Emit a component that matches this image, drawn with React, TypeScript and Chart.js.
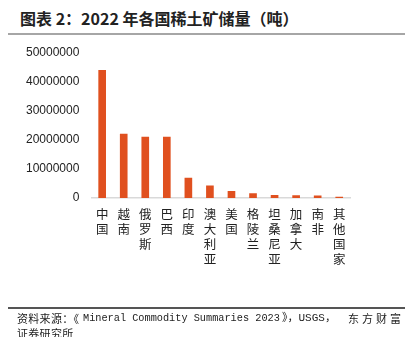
import React, { useEffect, useRef } from "react";
import { Chart, registerables } from "chart.js";

Chart.register(...registerables);

const categories: string[] = ["中国", "越南", "俄罗斯", "巴西", "印度", "澳大利亚", "美国", "格陵兰", "坦桑尼亚", "加拿大", "南非", "其他国家"];
const reserves: number[] = [44000000, 22000000, 21000000, 21000000, 6900000, 4200000, 2300000, 1500000, 890000, 830000, 790000, 280000];
const yTicks: number[] = [0, 10000000, 20000000, 30000000, 40000000, 50000000];

const titleText = "图表 2：2022 年各国稀土矿储量（吨）";
const srcA = "资料来源：《";
const srcB = "Mineral Commodity Summaries 2023";
const srcC = "》，USGS，";
const srcD = "东方财富";
const sourceLine2 = "证券研究所";

const cjk = "'Noto Sans CJK SC', sans-serif";
const mono = "'Liberation Mono', 'Noto Sans CJK SC', monospace";

export default function App() {
  const ref = useRef<HTMLCanvasElement | null>(null);

  useEffect(() => {
    document.body.style.margin = "0";
    if (!ref.current) return;
    const chart = new Chart(ref.current, {
      type: "bar",
      data: {
        labels: categories.map((c) => c.split("")),
        datasets: [
          {
            data: reserves,
            backgroundColor: "#E0501F",
            barThickness: 7,
          },
        ],
      },
      options: {
        animation: false,
        responsive: false,
        maintainAspectRatio: false,
        layout: { padding: { top: 53, right: 63, bottom: 61, left: 14 } },
        plugins: { legend: { display: false }, tooltip: { enabled: false } },
        scales: {
          x: {
            grid: { display: false, drawTicks: false },
            border: { display: true, color: "#D9D9D9", width: 1.5 },
            ticks: {
              maxRotation: 0,
              minRotation: 0,
              autoSkip: false,
              padding: 9,
              color: "#222",
              font: { family: "'Noto Sans CJK SC'", size: 12.5, lineHeight: 1.2 },
            },
          },
          y: {
            min: 0,
            max: 50000000,
            afterBuildTicks: (axis: any) => {
              axis.ticks = yTicks.map((v) => ({ value: v }));
            },
            grid: { display: false, drawTicks: false },
            border: { display: false },
            ticks: {
              padding: 12,
              color: "#222",
              font: { family: "'Liberation Sans', Arial, sans-serif", size: 12 },
              callback: (v: any) => String(v),
            },
          },
        },
      },
    });
    return () => chart.destroy();
  }, []);

  const seg = (left: number, text: string, family: string, size: number, ls: string) => (
    <div
      style={{
        position: "absolute",
        left,
        top: 311,
        fontFamily: family,
        fontSize: size,
        letterSpacing: ls,
        lineHeight: "15px",
        color: "#222",
        whiteSpace: "pre",
      }}
    >
      {text}
    </div>
  );

  return (
    <div style={{ position: "relative", width: 413, height: 337, overflow: "hidden", background: "#fff" }}>
      <div
        style={{
          position: "absolute",
          left: 20,
          top: 8,
          fontFamily: cjk,
          fontWeight: 700,
          fontSize: 16,
          lineHeight: "20px",
          color: "#222",
          whiteSpace: "pre",
        }}
      >
        {titleText}
      </div>
      <div style={{ position: "absolute", left: 8, top: 33, width: 397, height: 2, background: "#A6A6A6" }} />
      <canvas ref={ref} width={413} height={337} style={{ position: "absolute", left: 0, top: 0 }} />
      <div style={{ position: "absolute", left: 8, top: 307, width: 397, height: 1.5, background: "#555" }} />
      {seg(17, srcA, cjk, 11, "0.3px")}
      {seg(83, srcB, mono, 10.25, "0px")}
      {seg(282, srcC, mono, 11, "0px")}
      {seg(348, srcD, cjk, 11, "3px")}
      <div
        style={{
          position: "absolute",
          left: 17,
          top: 326,
          fontFamily: cjk,
          fontSize: 11,
          letterSpacing: "0.3px",
          lineHeight: "15px",
          color: "#222",
          whiteSpace: "pre",
        }}
      >
        {sourceLine2}
      </div>
    </div>
  );
}
